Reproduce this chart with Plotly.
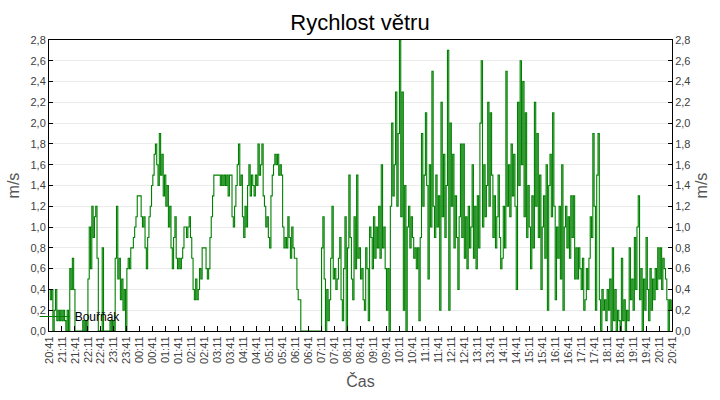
import pandas as pd
import plotly.graph_objects as go

# Wind speed (m/s), sampled every 3 minutes from 20:41 to 20:41 next day
start_time = "2023-05-01 20:41"
end_time = "2023-05-02 20:41"
sample_minutes = 3
series_name = "Bouřňák"

speed = [
    # 20:41
    0.4, 0.3, 0.4, 0.0, 0.2, 0.4, 0.1, 0.2, 0.1, 0.2, 0.1, 0.2, 0.1, 0.0, 0.2, 0.0, 0.6, 0.4, 0.7, 0.4,
    # 21:41
    0.0, 0.0, 0.0, 0.0, 0.0, 0.0, 0.1, 0.0, 0.1, 0.0, 0.5, 1.0, 0.6, 1.2, 0.9, 1.1, 1.2, 0.7, 0.0, 0.0,
    # 22:41
    0.0, 0.8, 0.0, 0.0, 0.0, 0.0, 0.0, 0.1, 0.0, 0.1, 0.0, 0.7, 1.2, 0.5, 0.7, 0.3, 0.5, 0.2, 0.4, 0.0,
    # 23:41
    0.6, 0.7, 0.6, 0.8, 0.8, 0.9, 1.0, 1.1, 1.3, 1.3, 1.3, 1.1, 1.0, 1.1, 0.8, 0.6, 0.9, 1.1, 1.2, 1.4,
    # 00:41
    1.5, 1.7, 1.8, 1.6, 1.4, 1.9, 1.5, 1.7, 1.3, 1.5, 1.2, 1.4, 1.0, 1.2, 0.8, 0.6, 0.9, 1.1, 0.7, 0.6,
    # 01:41
    0.7, 0.6, 0.7, 0.8, 1.0, 1.0, 0.9, 1.0, 1.1, 0.9, 0.7, 0.4, 0.3, 0.5, 0.3, 0.4, 0.6, 0.5, 0.8, 0.8,
    # 02:41
    0.8, 0.6, 0.5, 0.6, 0.9, 1.1, 1.3, 1.5, 1.5, 1.5, 1.5, 1.5, 1.4, 1.5, 1.4, 1.5, 1.4, 1.5, 1.3, 1.5,
    # 03:41
    1.5, 1.1, 1.0, 1.2, 1.4, 1.6, 1.8, 1.4, 1.5, 1.1, 0.9, 1.2, 1.0, 1.4, 1.6, 1.3, 1.5, 1.4, 1.3, 1.5,
    # 04:41
    1.4, 1.8, 1.5, 1.6, 1.8, 1.3, 1.2, 1.0, 1.1, 0.9, 0.8, 1.3, 1.5, 1.6, 1.7, 1.6, 1.7, 1.5, 1.6, 1.5,
    # 05:41
    1.0, 0.8, 0.9, 0.8, 1.1, 0.9, 0.7, 1.0, 0.8, 0.7, 0.7, 0.4, 0.3, 0.3, 0.0, 0.0, 0.0, 0.0, 0.0, 0.0,
    # 06:41
    0.0, 0.0, 0.0, 0.0, 0.0, 0.0, 0.0, 0.0, 0.0, 0.0, 0.8, 1.1, 0.5, 0.0, 0.4, 0.1, 0.3, 0.7, 1.2, 0.5,
    # 07:41
    0.6, 0.4, 0.5, 0.7, 0.9, 0.3, 0.1, 0.6, 1.1, 0.0, 0.8, 1.5, 0.9, 0.5, 0.3, 1.1, 0.6, 1.5, 0.7, 0.8,
    # 08:41
    0.5, 0.6, 0.3, 0.2, 0.8, 0.6, 0.1, 1.0, 0.9, 0.6, 1.1, 0.7, 1.0, 0.8, 1.2, 0.7, 1.6, 0.8, 1.0, 0.6,
    # 09:41
    0.2, 0.6, 0.0, 1.2, 2.0, 1.3, 1.6, 2.3, 1.2, 1.9, 2.8, 1.1, 2.3, 0.2, 1.4, 0.0, 1.0, 1.2, 0.8, 1.1,
    # 10:41
    0.9, 0.7, 0.8, 0.6, 0.8, 0.1, 0.9, 1.9, 1.2, 1.5, 2.1, 1.4, 0.5, 1.6, 1.0, 2.5, 1.2, 0.9, 1.5, 1.0,
    # 11:41
    1.3, 0.2, 2.2, 1.1, 1.7, 0.9, 1.4, 2.7, 0.2, 2.0, 1.2, 1.7, 0.8, 1.3, 0.9, 0.4, 1.1, 1.8, 0.9, 1.8,
    # 12:41
    0.7, 1.1, 0.6, 1.2, 0.8, 1.0, 1.6, 0.7, 1.2, 0.6, 1.3, 0.8, 2.0, 2.6, 1.0, 1.6, 1.1, 1.4, 2.2, 1.2,
    # 13:41
    2.1, 1.5, 0.9, 1.3, 0.8, 1.1, 1.5, 0.9, 0.6, 0.7, 1.2, 0.8, 2.5, 1.2, 1.6, 1.1, 1.8, 1.3, 1.7, 1.2,
    # 14:41
    0.4, 2.2, 1.4, 2.6, 1.6, 2.4, 1.1, 2.1, 0.9, 1.4, 1.0, 0.6, 1.3, 0.8, 2.2, 1.2, 1.9, 0.9, 1.5, 0.4,
    # 15:41
    1.0, 1.3, 0.7, 1.6, 0.2, 1.4, 1.7, 1.1, 2.1, 1.2, 0.3, 1.0, 0.7, 1.2, 0.5, 1.6, 0.2, 1.0, 1.2, 0.8,
    # 16:41
    1.1, 0.7, 1.3, 0.9, 1.3, 0.5, 0.8, 0.5, 0.8, 0.6, 0.4, 0.7, 0.2, 0.3, 0.6, 0.4, 0.7, 1.1, 0.9, 1.9,
    # 17:41
    1.2, 0.2, 1.5, 1.9, 0.3, 0.0, 0.4, 0.2, 0.3, 0.1, 0.4, 0.2, 0.5, 0.0, 0.8, 0.1, 0.4, 0.0, 0.2, 0.1,
    # 18:41
    0.0, 0.7, 0.1, 0.3, 0.0, 0.2, 0.1, 0.8, 0.3, 0.5, 0.2, 0.9, 0.4, 1.0, 1.3, 0.3, 0.6, 0.0, 0.5, 0.2,
    # 19:41
    0.9, 0.4, 0.1, 0.6, 0.2, 0.5, 0.3, 0.6, 0.4, 0.8, 0.5, 0.8, 0.4, 0.7, 0.6, 0.5, 0.3, 0.0, 0.3, 0.2,
    # 20:41
    0.3,
]

y_ticks = [0.0, 0.2, 0.4, 0.6, 0.8, 1.0, 1.2, 1.4, 1.6, 1.8, 2.0, 2.2, 2.4, 2.6, 2.8]

times = pd.date_range(start=start_time, periods=len(speed), freq=f"{sample_minutes}min")

GREEN = "#008000"
TICK_FONT = dict(family="Liberation Sans, Arial, sans-serif", size=11, color="#404040")
TITLE_FONT = dict(family="Liberation Sans, Arial, sans-serif", size=16, color="#555555")

fig = go.Figure()
fig.add_trace(go.Scatter(
    x=times, y=speed, mode="lines", name=series_name,
    line=dict(color=GREEN, width=1.1, shape="hv"),
    showlegend=True,
))
# invisible companion trace so the right-hand axis is drawn
fig.add_trace(go.Scatter(
    x=[times[0], times[-1]], y=[y_ticks[0], y_ticks[-1]], mode="lines",
    line=dict(color="rgba(0,0,0,0)", width=0), yaxis="y2",
    showlegend=False, hoverinfo="skip",
))

fig.update_layout(
    width=720, height=400,
    margin=dict(l=49, r=48, t=40, b=69),
    paper_bgcolor="white", plot_bgcolor="white",
    separators=", ",
    title=dict(text="Rychlost větru", x=0.5, xanchor="center", y=0.945, yanchor="middle",
               font=dict(family="Liberation Sans, Arial, sans-serif", size=22, color="black")),
    showlegend=True,
    legend=dict(x=-0.023, xanchor="left", y=0.0, yanchor="bottom", bgcolor="rgba(0,0,0,0)",
                font=dict(family="Liberation Sans, Arial, sans-serif", size=12, color="black"),
                borderwidth=0, itemwidth=30, tracegroupgap=0),
    xaxis=dict(
        type="date", range=[start_time, end_time],
        tick0=start_time, dtick=30 * 60 * 1000, tickformat="%H:%M",
        tickangle=-90, tickfont=TICK_FONT,
        ticks="inside", ticklen=5, tickcolor="black",
        showline=True, linecolor="black", linewidth=1, mirror=True,
        showgrid=False, zeroline=False,
        title=dict(text="Čas", font=TITLE_FONT, standoff=12),
    ),
    yaxis=dict(
        range=[y_ticks[0], y_ticks[-1]], tickvals=y_ticks, tickformat=".1f",
        tickfont=TICK_FONT, ticks="inside", ticklen=4, tickcolor="black",
        showline=True, linecolor="black", linewidth=1,
        showgrid=True, gridcolor="#ebebeb", gridwidth=1, zeroline=False,
        title=dict(text="m/s", font=TITLE_FONT, standoff=6),
    ),
    yaxis2=dict(
        overlaying="y", side="right", matches="y",
        range=[y_ticks[0], y_ticks[-1]], tickvals=y_ticks, tickformat=".1f",
        tickfont=TICK_FONT, ticks="inside", ticklen=4, tickcolor="black",
        showline=True, linecolor="black", linewidth=1,
        showgrid=False, zeroline=False,
        title=dict(text="m/s", font=TITLE_FONT, standoff=6),
    ),
)

fig.write_html("out.html")
